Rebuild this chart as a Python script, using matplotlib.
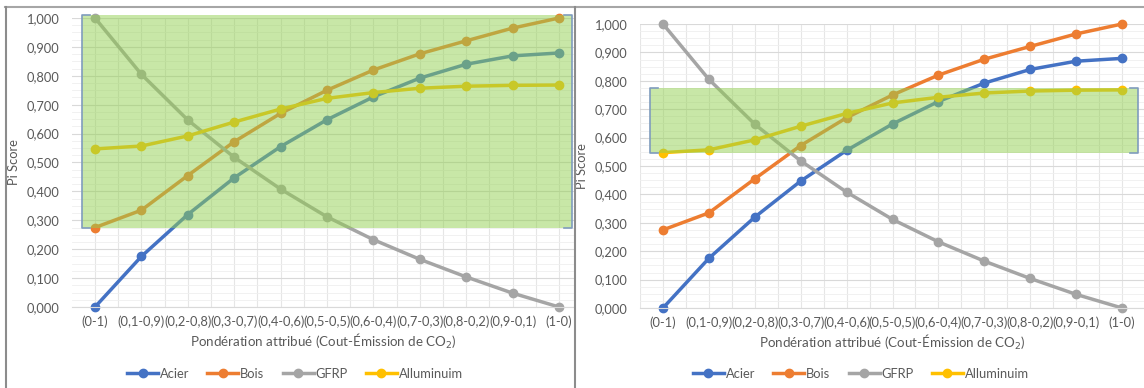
import matplotlib
matplotlib.use("Agg")
import matplotlib.pyplot as plt
from matplotlib.lines import Line2D
from matplotlib.ticker import FuncFormatter, MultipleLocator, FixedLocator
import numpy as np

plt.rcParams['font.family'] = ['Lato', 'DejaVu Sans']

categories = ["(0-1)", "(0,1-0,9)", "(0,2-0,8)", "(0,3-0,7)", "(0,4-0,6)", "(0,5-0,5)",
              "(0,6-0,4)", "(0,7-0,3)", "(0,8-0,2)", "(0,9-0,1)", "(1-0)"]
acier = [0.000, 0.175, 0.320, 0.447, 0.555, 0.648, 0.727, 0.792, 0.840, 0.869, 0.879]
bois = [0.275, 0.335, 0.455, 0.572, 0.670, 0.750, 0.820, 0.876, 0.921, 0.965, 1.000]
gfrp = [1.000, 0.805, 0.647, 0.518, 0.408, 0.312, 0.233, 0.165, 0.104, 0.048, 0.000]
alu = [0.547, 0.557, 0.592, 0.640, 0.685, 0.722, 0.742, 0.757, 0.764, 0.767, 0.768]
series_names = ["Acier", "Bois", "GFRP", "Alluminuim"]
series_colors = ["#4472C4", "#ED7D31", "#A5A5A5", "#FFC000"]
band_left = (0.273, 1.012)
band_right = (0.545, 0.775)

W, H = 1144, 388
fig = plt.figure(figsize=(W / 100, H / 100), dpi=100)

def fx(px):
    return px / W

def fy(py):
    return 1 - py / H

txt = "#595959"

def make_panel(x0, x1, y_top, y_bot, xlim, band, band_x, legend_cx):
    ax = fig.add_axes([fx(x0), fy(y_bot), fx(x1 - x0), (y_bot - y_top) / H])
    x = np.arange(len(categories))
    for name, vals, c in zip(series_names, [acier, bois, gfrp, alu], series_colors):
        ax.plot(x, vals, color=c, lw=2.5, marker='o', ms=6, label=name, zorder=2,
                clip_on=False)
    ax.set_xlim(*xlim)
    ax.set_ylim(0, 1.0)
    ax.yaxis.set_major_locator(MultipleLocator(0.1))
    ax.yaxis.set_minor_locator(MultipleLocator(0.025))
    ax.yaxis.set_major_formatter(FuncFormatter(lambda v, p: f"{v:.3f}".replace('.', ',')))
    ax.xaxis.set_major_locator(FixedLocator(x))
    ax.set_xticklabels(categories)
    ax.xaxis.set_minor_locator(FixedLocator(np.arange(-0.5, 11, 1.0)))
    ax.tick_params(axis='both', which='both', length=0, colors=txt, labelsize=9.3)
    ax.tick_params(axis='x', pad=6)
    ax.tick_params(axis='y', pad=9)
    ax.grid(True, which='major', axis='y', color='#D9D9D9', lw=0.8, zorder=0)
    ax.grid(True, which='minor', axis='y', color='#EFEFEF', lw=0.6, zorder=0)
    ax.grid(True, which='both', axis='x', color='#E6E6E6', lw=0.8, zorder=0)
    ax.set_axisbelow(True)
    for s in ['top', 'right', 'left']:
        ax.spines[s].set_visible(False)
    ax.spines['bottom'].set_color('#D9D9D9')
    ax.set_ylabel("Pi Score", color=txt, fontsize=9.3, labelpad=5)
    ax.set_xlabel("Pondération attribué (Cout-Émission de CO$_2$)", color=txt,
                  fontsize=9.6, labelpad=3)
    # green band overlay
    bx0, bx1 = band_x
    ax.fill_between([bx0, bx1], band[0], band[1], color='#92D050', alpha=0.5,
                    lw=0, zorder=3, clip_on=False)
    ec = '#7F9CBD'
    st = 0.18
    for xe, d in [(bx0, st), (bx1, -st)]:
        ax.plot([xe + d, xe, xe, xe + d], [band[1], band[1], band[0], band[0]],
                color=ec, lw=1.2, zorder=4, clip_on=False)
    handles = [Line2D([], [], color=c, lw=2.5, marker='o', ms=6) for c in series_colors]
    fig.legend(handles, series_names, loc='center', ncol=4, frameon=False,
               bbox_to_anchor=(fx(legend_cx), fy(374)), fontsize=9.3,
               handlelength=2.4, columnspacing=1.4, handletextpad=0.15,
               labelcolor=txt)
    return ax

make_panel(72, 574, 18, 307, ((72 - 95) / 46.4, (574 - 95) / 46.4), band_left,
           ((82 - 95) / 46.4, (572 - 95) / 46.4), 295)
make_panel(640, 1144, 24, 308, ((640 - 663) / 45.9, (1144 - 663) / 45.9), band_right,
           ((650 - 663) / 45.9, (1138 - 663) / 45.9), 861)

# chart area borders
bc = '#A6A6A6'
fig.add_artist(Line2D([fx(5), fx(1144)], [fy(6.5), fy(6.5)], color=bc, lw=1.5))
fig.add_artist(Line2D([fx(6), fx(6)], [fy(6.5), fy(388)], color='#8C8C8C', lw=1.5))
fig.add_artist(Line2D([fx(574.5), fx(574.5)], [fy(6.5), fy(388)], color='#8C8C8C', lw=1.5))

fig.savefig("out.png", dpi=100)
